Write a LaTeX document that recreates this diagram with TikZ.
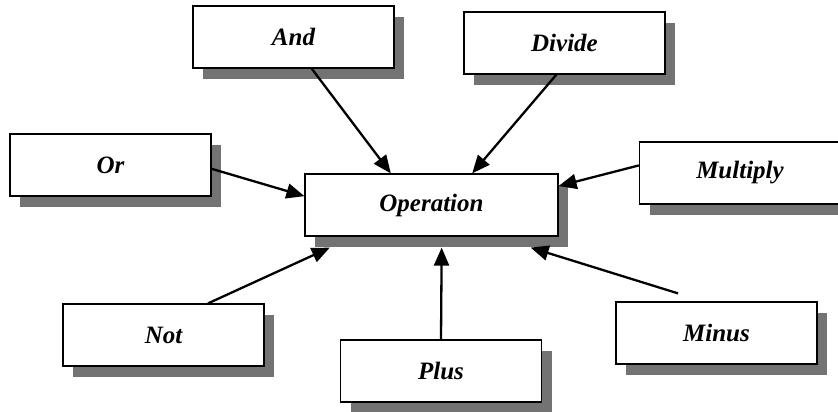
\documentclass[tikz,border=0pt]{standalone}
\usepackage{fontspec}
\setmainfont{Liberation Serif}
\usetikzlibrary{arrows.meta,shadows,calc}

\tikzset{
  opbox/.style={draw=black, line width=1.2pt, fill=white,
    minimum width=201pt, minimum height=62pt, inner sep=0pt,
    font=\bfseries\itshape\fontsize{25}{30}\selectfont,
    drop shadow={shadow xshift=10pt, shadow yshift=-11pt,
      fill=black!55, opacity=1}},
  link/.style={line width=2.3pt,
    -{Triangle[length=18pt,width=15pt]}}
}

\begin{document}
\begin{tikzpicture}[x=1pt,y=-1pt]
  \useasboundingbox (0,0) rectangle (838,412);
  \clip (0,0) rectangle (838,412);

  % operand boxes around the central operation
  \node[opbox] (and)    at (293.5, 37)  {And};
  \node[opbox] (divide) at (564.5, 43)  {Divide};
  \node[opbox] (or)     at (110.5,165)  {Or};
  \node[opbox, minimum width=253pt] (op) at (431.5,205) {Operation};
  \node[opbox] (mult)   at (740,  173)  {Multiply};
  \node[opbox] (not)    at (163.5,335)  {Not};
  \node[opbox] (plus)   at (441,  371)  {Plus};
  \node[opbox] (minus)  at (716.5,333)  {Minus};

  % free end of the Minus connector, just above its box
  \coordinate (minusend) at ($(minus.north west)!0.31!(minus.north east)+(0,-8)$);

  % connectors into Operation
  \draw[link] ($(and.south west)!0.59!(and.south east)$)
           -- ($(op.north west)!0.34!(op.north east)$);
  \draw[link] ($(divide.south west)!0.46!(divide.south east)$)
           -- ($(op.north west)!0.66!(op.north east)$);
  \draw[link] ($(or.north east)!0.56!(or.south east)$)
           -- ($(op.north west)!0.36!(op.south west)$);
  \draw[link] ($(mult.north west)!0.38!(mult.south west)$)
           -- ($(op.north east)!0.2!(op.south east)$);
  \draw[link] ($(not.north west)!0.72!(not.north east)$)
           -- ($(op.south west)!0.1!(op.south east)+(0,11)$);
  \draw[link] (plus.north)
           -- ($(op.south west)!0.54!(op.south east)+(0,11)$);
  \draw[link] (minusend)
           -- ($(op.south west)!0.89!(op.south east)+(0,11)$);
\end{tikzpicture}
\end{document}
